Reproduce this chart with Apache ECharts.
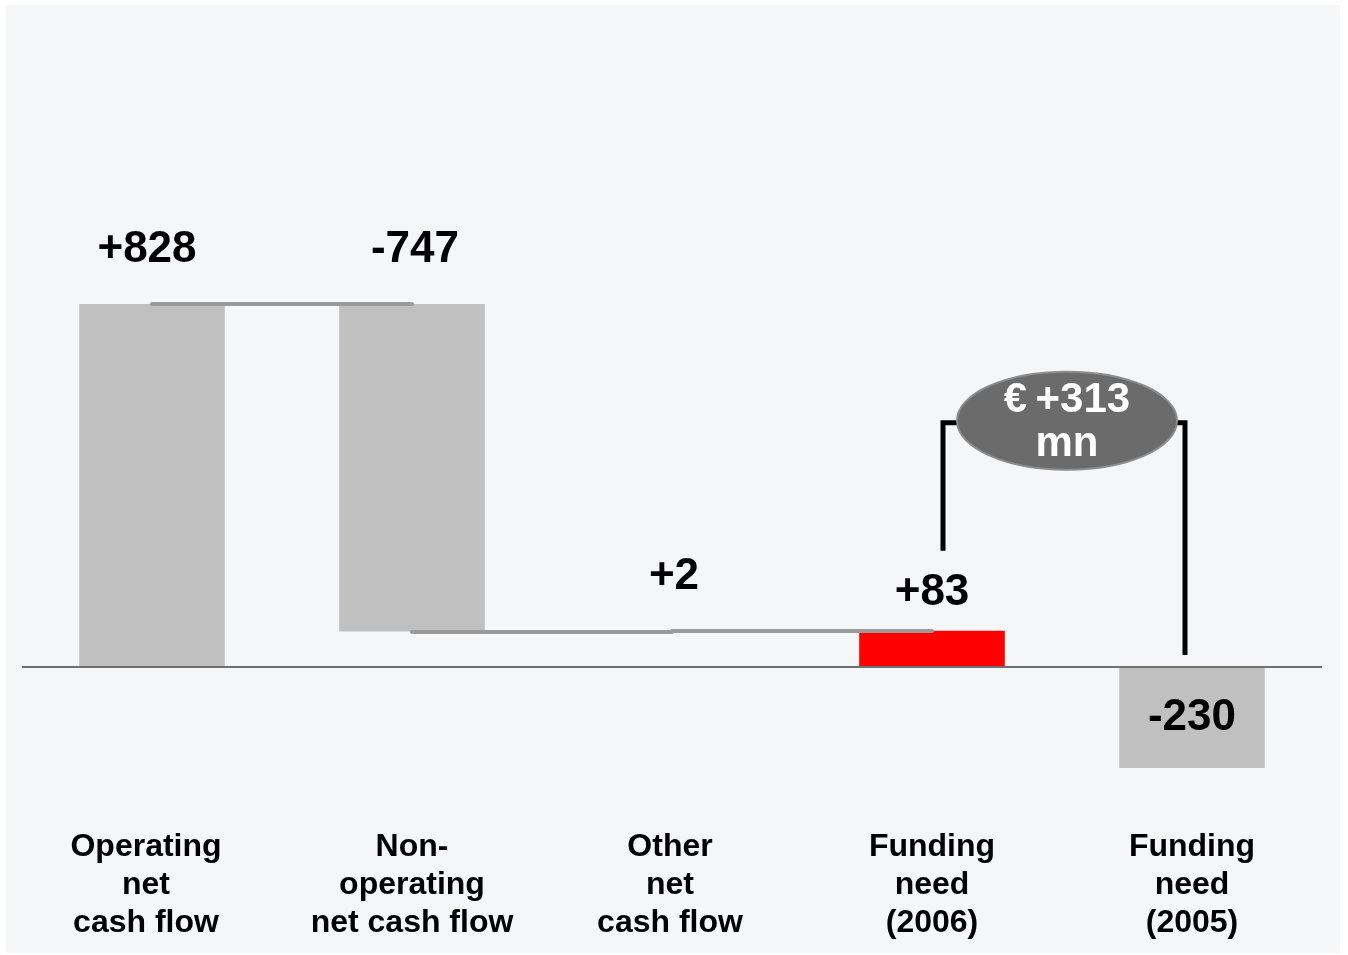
<!DOCTYPE html>
<html>
<head>
<meta charset="utf-8">
<title>Funding need bridge</title>
<script src="https://cdn.jsdelivr.net/npm/echarts@6/dist/echarts.min.js"></script>
<style>
  html, body { margin: 0; padding: 0; background: #ffffff; }
  #chart { width: 1348px; height: 955px; }
</style>
</head>
<body>
<div id="chart"></div>
<script>
// Bridge steps (EUR mn)
const categories = [
  'Operating\nnet\ncash flow',
  'Non-\noperating\nnet cash flow',
  'Other\nnet\ncash flow',
  'Funding\nneed\n(2006)',
  'Funding\nneed\n(2005)'
];
const changes = [828, -747, 2, 83, -230];
const kinds = ['step', 'step', 'step', 'total', 'total'];

const FONT = '"Liberation Sans", Arial, sans-serif';

// Build invisible bases and visible heights for the waterfall
const bases = [];
const heights = [];
const levels = [];
let running = 0;
changes.forEach((c, i) => {
  if (kinds[i] === 'step') {
    bases.push(c >= 0 ? running : running + c);
    heights.push(Math.abs(c));
    running += c;
  } else {
    bases.push(0);
    heights.push(c);
  }
  levels.push(kinds[i] === 'step' ? running : c);
});

const fmt = v => (v > 0 ? '+' : '') + v;

// label placement per bar
const labelDist = [32, 32, 32, 16, 0];
const labelShift = [[-5, 0], [3, 0], [2, 0], [0, 0], [0, 0]];
// right padding nudges a category caption to the left
const captionPadRight = [12, 0, 4, 0, 0];

const barData = heights.map((h, i) => ({
  value: h,
  itemStyle: { color: i === 3 ? '#ff0000' : '#c0c0c0' },
  label: {
    show: true,
    formatter: fmt(changes[i]),
    position: h < 0 ? 'inside' : 'top',
    distance: labelDist[i],
    offset: labelShift[i]
  }
}));

// Connector lines between consecutive step bars
const connectors = [];
for (let i = 0; i < changes.length - 1; i++) {
  if (kinds[i] === 'step') {
    connectors.push([
      { coord: [i, levels[i]], lineStyle: { color: '#9a9a9a', width: 4, cap: 'round', type: 'solid' } },
      { coord: [i + 1, levels[i]] }
    ]);
  }
}

// Year-on-year change of the funding need
const nowIdx = 3, prevIdx = 4;
const delta = changes[nowIdx] - changes[prevIdx];

const chart = echarts.init(document.getElementById('chart'), null, { renderer: 'canvas' });

chart.setOption({
  animation: false,
  backgroundColor: '#ffffff',
  graphic: [{
    type: 'rect', z: -10, silent: true,
    shape: { x: 6, y: 5, width: 1334, height: 948 },
    style: { fill: '#f5f6f8' }
  }],
  grid: { left: 22, width: 1300, top: 141, height: 679.5 },
  xAxis: {
    type: 'category',
    data: categories.map((c, i) => ({
      value: c,
      textStyle: { padding: [0, captionPadRight[i], 0, 0] }
    })),
    axisLine: { show: false },
    axisTick: { show: false },
    axisLabel: {
      margin: 8,
      interval: 0,
      fontFamily: FONT,
      fontWeight: 'bold',
      fontSize: 32,
      lineHeight: 38,
      color: '#000000'
    }
  },
  yAxis: {
    type: 'value',
    min: -350,
    max: 1200,
    show: false,
    splitLine: { show: false }
  },
  series: [
    {
      name: 'base',
      type: 'bar',
      stack: 'bridge',
      barWidth: '56%',
      silent: true,
      itemStyle: { color: 'rgba(0,0,0,0)' },
      data: bases
    },
    {
      name: 'value',
      type: 'bar',
      stack: 'bridge',
      barWidth: '56%',
      label: {
        fontFamily: FONT,
        fontWeight: 'bold',
        fontSize: 44,
        color: '#000000'
      },
      data: barData,
      markLine: {
        silent: true,
        symbol: 'none',
        label: { show: false },
        z: 5,
        data: [
          { yAxis: 0, lineStyle: { color: '#707070', width: 2, type: 'solid' } },
          ...connectors
        ]
      }
    },
    {
      name: 'change',
      type: 'custom',
      z: 10,
      silent: true,
      data: [[nowIdx, prevIdx, changes[nowIdx], changes[prevIdx], delta]],
      renderItem: function (params, api) {
        const pNow = api.coord([api.value(0), api.value(2)]);
        const pPrev = api.coord([api.value(1), 0]);
        const leftX = pNow[0] + 11;
        const rightX = pPrev[0] - 7;
        const topY = pNow[1] - 208;
        const cx = (leftX + rightX) / 2 + 3;
        const cy = topY - 2;
        const d = api.value(4);
        const lineStyle = { stroke: '#000000', lineWidth: 5, fill: null, lineJoin: 'miter' };
        return {
          type: 'group',
          children: [
            {
              type: 'polyline',
              shape: { points: [[leftX, pNow[1] - 80], [leftX, topY], [cx - 95, topY]] },
              style: lineStyle
            },
            {
              type: 'polyline',
              shape: { points: [[rightX, pPrev[1] - 12], [rightX, topY], [cx + 95, topY]] },
              style: lineStyle
            },
            {
              type: 'ellipse',
              shape: { cx: cx, cy: cy, rx: 110, ry: 49 },
              style: { fill: '#6b6b6b', stroke: '#8c8c8c', lineWidth: 2 }
            },
            {
              type: 'text',
              x: cx,
              y: cy + 2,
              style: {
                text: '€\u2009' + fmt(d) + '\nmn',
                fontFamily: FONT,
                fontWeight: 'bold',
                fontSize: 42,
                lineHeight: 44,
                fill: '#ffffff',
                align: 'center',
                verticalAlign: 'middle'
              }
            }
          ]
        };
      }
    }
  ]
});
</script>
</body>
</html>
